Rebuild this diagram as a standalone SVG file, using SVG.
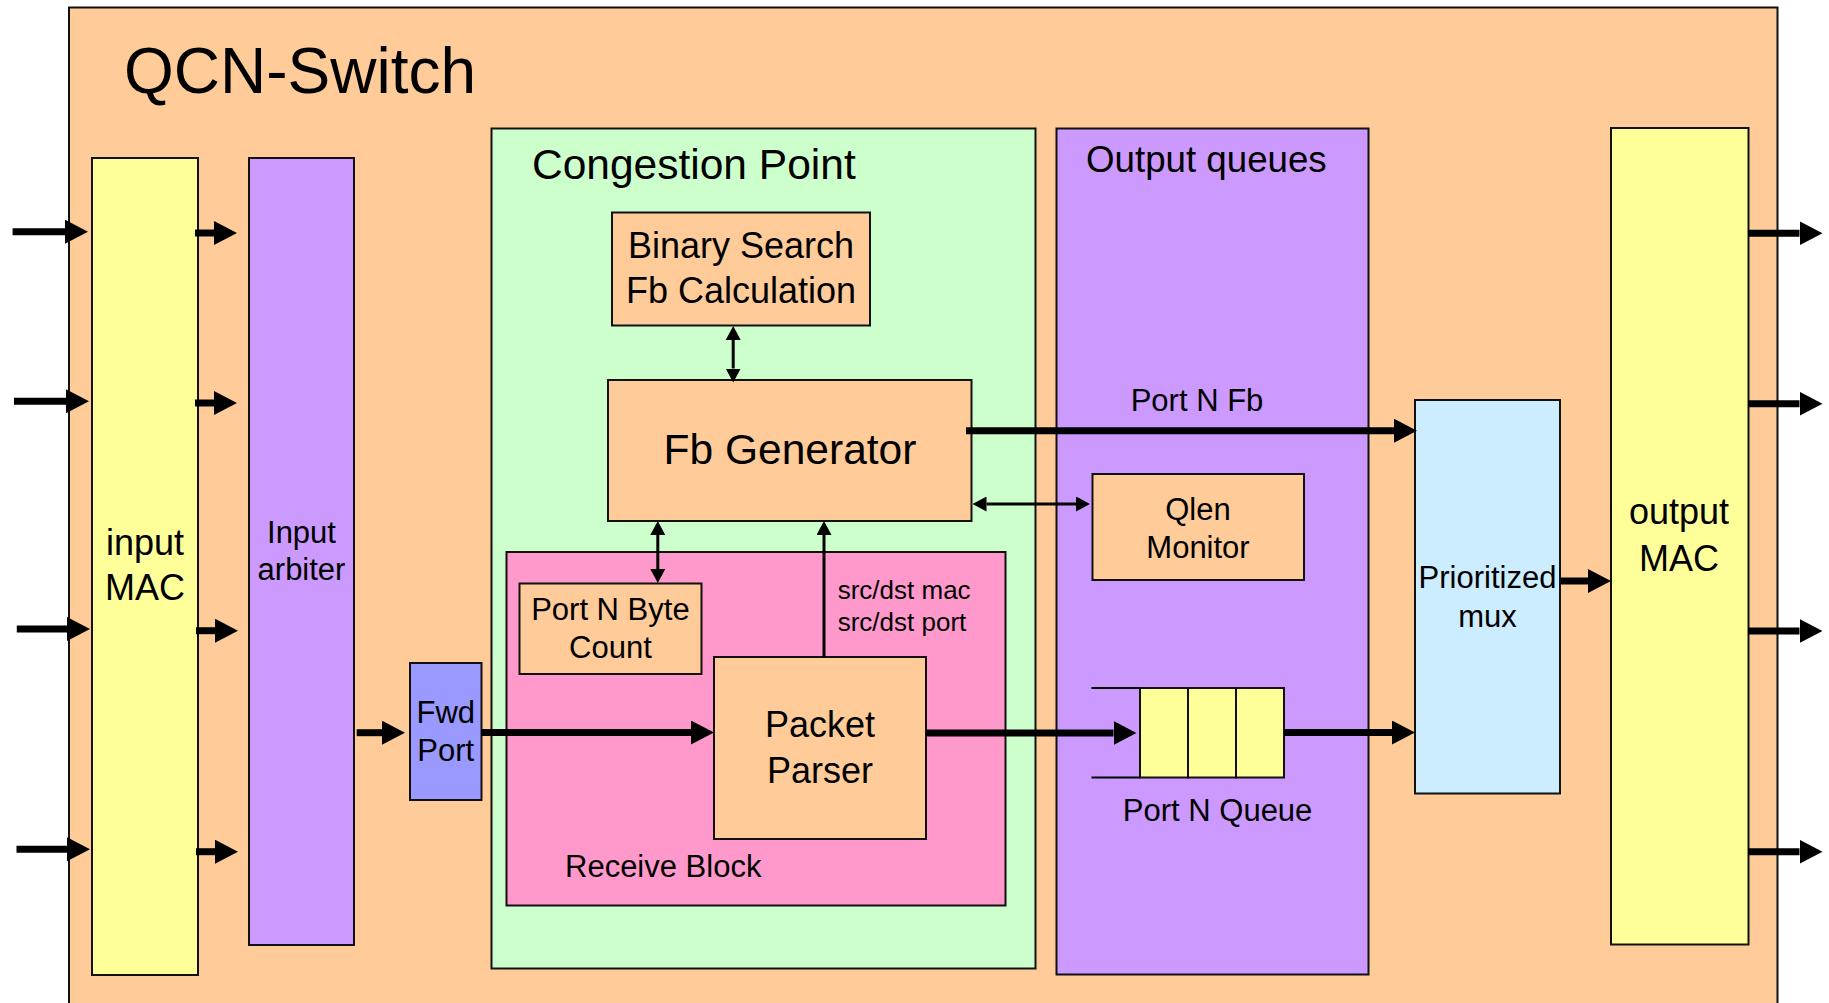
<svg xmlns="http://www.w3.org/2000/svg" width="1829" height="1003" viewBox="0 0 1829 1003">
<style>
text{font-family:"Liberation Sans",Arial,sans-serif;fill:#000}
.box{stroke:#111;stroke-width:2}
.peach{fill:#FFCC99}
.yellow{fill:#FFFF99}
.purple{fill:#CC99FF}
.green{fill:#CCFFCC}
.pink{fill:#FF99CC}
.blue{fill:#9999FF}
.sky{fill:#CCECFF}
.thick{stroke:#000;stroke-width:7;fill:none}
.thin{stroke:#000;stroke-width:3;fill:none}
.c{text-anchor:middle}
</style>
<defs>
<marker id="big" markerUnits="userSpaceOnUse" markerWidth="24" markerHeight="26" refX="0" refY="12" orient="auto">
<path d="M0,0 L23,12 L0,24 Z" fill="#000"/>
</marker>
<marker id="sm" markerUnits="userSpaceOnUse" markerWidth="15" markerHeight="16" refX="0" refY="7.5" orient="auto">
<path d="M0,0 L14,7.5 L0,15 Z" fill="#000"/>
</marker>
<marker id="smStart" markerUnits="userSpaceOnUse" markerWidth="15" markerHeight="16" refX="14" refY="7.5" orient="auto">
<path d="M14,0 L0,7.5 L14,15 Z" fill="#000"/>
</marker>
</defs>

<g id="qcn-switch">
<rect class="box peach" x="69" y="7.5" width="1708.5" height="1010"/>
<text x="124" y="93" font-size="64">QCN-Switch</text>
</g>

<g id="input-mac">
<rect class="box yellow" x="92" y="158" width="106" height="817"/>
<text class="c" x="145" y="555" font-size="36">input</text>
<text class="c" x="145" y="600" font-size="36">MAC</text>
</g>

<g id="input-arbiter">
<rect class="box purple" x="249" y="158" width="105" height="787"/>
<text class="c" x="301.5" y="542.7" font-size="31">Input</text>
<text class="c" x="301.5" y="580" font-size="31">arbiter</text>
</g>

<g id="fwd-port">
<rect class="box blue" x="410" y="663" width="71.5" height="137"/>
<text class="c" x="445.8" y="722.7" font-size="31">Fwd</text>
<text class="c" x="445.8" y="760.7" font-size="31">Port</text>
</g>

<g id="congestion-point">
<rect class="box green" x="491.5" y="128.5" width="544" height="840"/>
<text x="532" y="179" font-size="42.5">Congestion Point</text>
</g>

<g id="receive-block">
<rect class="box pink" x="506.5" y="552" width="499" height="353.5"/>
<text x="565" y="876.7" font-size="31">Receive Block</text>
</g>

<g id="binary-search">
<rect class="box peach" x="612" y="212.5" width="258" height="113"/>
<text class="c" x="741" y="258.3" font-size="36">Binary Search</text>
<text class="c" x="741" y="303.3" font-size="36">Fb Calculation</text>
</g>

<g id="fb-generator">
<rect class="box peach" x="608" y="380" width="363.5" height="141"/>
<text class="c" x="790" y="464" font-size="42.5">Fb Generator</text>
</g>

<g id="byte-count">
<rect class="box peach" x="519.5" y="583.5" width="182" height="90.5"/>
<text class="c" x="610.4" y="620" font-size="31">Port N Byte</text>
<text class="c" x="610.4" y="658.3" font-size="31">Count</text>
</g>

<g id="packet-parser">
<rect class="box peach" x="714" y="657" width="212" height="182"/>
<text class="c" x="820" y="737.3" font-size="36">Packet</text>
<text class="c" x="820" y="782.7" font-size="36">Parser</text>
</g>

<g id="src-dst-label">
<text x="837.7" y="599.3" font-size="26">src/dst mac</text>
<text x="837.7" y="630.7" font-size="26">src/dst port</text>
</g>

<g id="output-queues">
<rect class="box purple" x="1056.5" y="128.5" width="312" height="846"/>
<text x="1086" y="172" font-size="36.7">Output queues</text>
</g>

<g id="qlen-monitor">
<rect class="box peach" x="1092.5" y="474" width="211.5" height="106"/>
<text class="c" x="1198" y="519.5" font-size="31">Qlen</text>
<text class="c" x="1198" y="557.5" font-size="31">Monitor</text>
</g>

<g id="port-n-queue">
<line x1="1091.5" y1="688" x2="1140" y2="688" stroke="#000" stroke-width="2"/>
<line x1="1091.5" y1="777.5" x2="1140" y2="777.5" stroke="#000" stroke-width="2"/>
<rect class="box yellow" x="1140" y="688" width="48" height="89.5"/>
<rect class="box yellow" x="1188" y="688" width="48" height="89.5"/>
<rect class="box yellow" x="1236" y="688" width="48" height="89.5"/>
<text class="c" x="1217.6" y="821" font-size="31">Port N Queue</text>
</g>

<g id="prioritized-mux">
<rect class="box sky" x="1415" y="400" width="145" height="393.5"/>
<text class="c" x="1487.5" y="588" font-size="31">Prioritized</text>
<text class="c" x="1487.5" y="627" font-size="31">mux</text>
</g>

<g id="output-mac">
<rect class="box yellow" x="1611" y="128" width="137.5" height="816.5"/>
<text class="c" x="1679" y="524" font-size="36">output</text>
<text class="c" x="1679" y="570.5" font-size="36">MAC</text>
</g>

<g id="connectors">
<line class="thick" x1="12.6" y1="231.7" x2="65" y2="231.7" marker-end="url(#big)"/>
<line class="thick" x1="14" y1="401.3" x2="66" y2="401.3" marker-end="url(#big)"/>
<line class="thick" x1="16.8" y1="629" x2="67" y2="629" marker-end="url(#big)"/>
<line class="thick" x1="16.5" y1="849.3" x2="67" y2="849.3" marker-end="url(#big)"/>
<line class="thick" x1="195" y1="233" x2="214" y2="233" marker-end="url(#big)"/>
<line class="thick" x1="195" y1="403" x2="214" y2="403" marker-end="url(#big)"/>
<line class="thick" x1="196" y1="630.7" x2="215" y2="630.7" marker-end="url(#big)"/>
<line class="thick" x1="196" y1="851.7" x2="215" y2="851.7" marker-end="url(#big)"/>
<line class="thick" x1="356.7" y1="732.7" x2="382" y2="732.7" marker-end="url(#big)"/>
<line class="thick" x1="481" y1="732.5" x2="691" y2="732.5" marker-end="url(#big)"/>
<line class="thick" x1="926" y1="733" x2="1113.5" y2="733" marker-end="url(#big)"/>
<line class="thick" x1="1284" y1="732.5" x2="1392" y2="732.5" marker-end="url(#big)"/>
<line class="thick" x1="1561" y1="581" x2="1588" y2="581" marker-end="url(#big)"/>
<line class="thick" x1="966" y1="430.7" x2="1394" y2="430.7" marker-end="url(#big)"/>
<text class="c" x="1197" y="410.5" font-size="31">Port N Fb</text>
<line class="thick" x1="1748" y1="233.3" x2="1799.5" y2="233.3" marker-end="url(#big)"/>
<line class="thick" x1="1748" y1="403.7" x2="1799.5" y2="403.7" marker-end="url(#big)"/>
<line class="thick" x1="1748" y1="631" x2="1799.5" y2="631" marker-end="url(#big)"/>
<line class="thick" x1="1748" y1="851.7" x2="1799.5" y2="851.7" marker-end="url(#big)"/>
<line class="thin" x1="733.2" y1="340" x2="733.2" y2="368.5" marker-start="url(#smStart)" marker-end="url(#sm)"/>
<line class="thin" x1="657.8" y1="535" x2="657.8" y2="569" marker-start="url(#smStart)" marker-end="url(#sm)"/>
<line class="thin" x1="986.5" y1="504" x2="1076" y2="504" marker-start="url(#smStart)" marker-end="url(#sm)"/>
<line class="thin" x1="824" y1="657" x2="824" y2="535" marker-end="url(#sm)"/>
</g>
</svg>
